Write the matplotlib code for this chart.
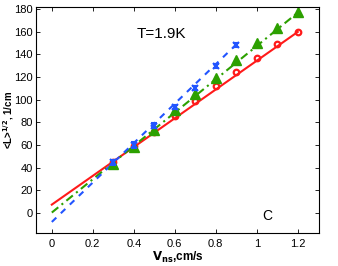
import matplotlib
matplotlib.use("Agg")
import matplotlib.pyplot as plt
import numpy as np

plt.rcParams['font.family'] = ['Liberation Sans', 'DejaVu Sans']

# data
v_red = [0.3, 0.4, 0.5, 0.6, 0.7, 0.8, 0.9, 1.0, 1.1, 1.2]
L_red = [44.5, 59, 71, 85.2, 98.5, 111.7, 124.5, 137, 148.7, 160]
v_green = [0.3, 0.4, 0.5, 0.6, 0.7, 0.8, 0.9, 1.0, 1.1, 1.2]
L_green = [43, 58, 73, 91, 105, 119.2, 134.8, 150.2, 163.5, 177]
v_blue = [0.3, 0.4, 0.5, 0.6, 0.7, 0.8, 0.9]
L_blue = [44.5, 60, 77, 93.5, 110.4, 129.5, 148]
err_blue = [2.5, 2.5, 2.5, 2.0, 2.0, 2.0, 2.0]

# linear fits: (intercept, slope, x_end)
fit_red = (7.3, 127.0, 1.2)
fit_green = (0.3, 147.0, 1.2)
fit_blue = (-8.0, 174.0, 0.9)

xticks = [0, 0.2, 0.4, 0.6, 0.8, 1, 1.2]
xticklabels = ['0', '0.2', '0.4', '0.6', '0.8', '1', '1.2']
yticks = [0, 20, 40, 60, 80, 100, 120, 140, 160, 180]

c_red = '#ff1a1a'
c_green = '#2ca000'
c_blue = '#2255ff'

fig = plt.figure(figsize=(3.38, 2.66), dpi=100)
ax = fig.add_axes([0.106, 0.123, 0.838, 0.852])

for (b0, b1, xe), col, ls in [(fit_red, c_red, '-'), (fit_green, c_green, (0, (4, 2, 1, 2))),
                              (fit_blue, c_blue, (0, (3, 3)))]:
    xx = np.array([0.0, xe])
    ax.plot(xx, b0 + b1 * xx, color=col, linestyle=ls, lw=1.5)

ax.plot(v_red, L_red, 'o', color=c_red, mfc='none', mew=1.6, ms=4)
ax.plot(v_green, L_green, '^', color=c_green, ms=6.5)
ax.errorbar(v_blue, L_blue, yerr=err_blue, fmt='x', color=c_blue, ms=5, mew=1.5,
            capsize=2, elinewidth=1.2, capthick=1.2)

ax.set_xlim(-0.078, 1.304)
ax.set_ylim(-18, 182)
ax.set_xticks(xticks)
ax.set_xticklabels(xticklabels)
ax.set_yticks(yticks)
ax.tick_params(direction='in', top=True, right=True, labelsize=8, length=3, width=0.6, pad=4)
ax.tick_params(axis='y', pad=2)
for s in ax.spines.values():
    s.set_linewidth(0.8)

ax.text(0.416, 157.5, 'T=1.9K', fontsize=11, va='center', ha='left')
ax.text(1.049, -2.6, 'C', fontsize=10, va='center', ha='center')

ax.set_xlabel(r'$\mathbf{V_{ns}}$' + ',cm/s', fontsize=8.5, fontweight='bold', labelpad=1)
ax.set_ylabel(r'<L>$^{\mathbf{1/2}}$, 1/cm', fontsize=7, fontweight='bold')
ax.yaxis.set_label_coords(-0.122, 0.5)
ax.yaxis.label.set_va('top')

fig.savefig('out.png', dpi=100)
